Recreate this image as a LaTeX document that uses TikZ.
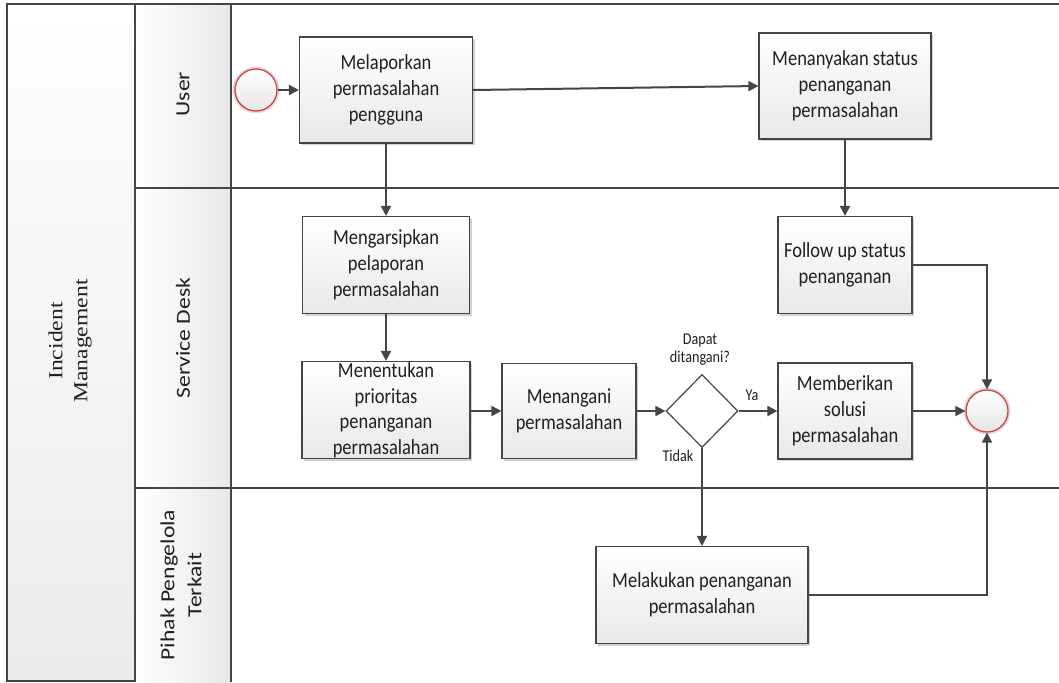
\documentclass[tikz,border=0pt]{standalone}
\usepackage{fontspec}
\setmainfont{Carlito}
\newfontfamily\boxfont[FakeStretch=0.86]{Carlito}
\newfontfamily\lanefont[FakeStretch=1.18]{Carlito}
\newfontfamily\titlefont[FakeStretch=1.18]{Liberation Serif}
\usetikzlibrary{arrows.meta,shapes.geometric,shadows}
\definecolor{ln}{HTML}{454545}
\definecolor{txt}{HTML}{202020}
\definecolor{evred}{HTML}{C9494B}
\begin{document}
\begin{tikzpicture}[x=1pt,y=-1pt,
  box/.style={draw=ln, line width=1.2pt, top color=white, bottom color=black!9,
    inner sep=0pt, align=center, text=txt,
    font=\boxfont\fontsize{21.5}{26}\selectfont,
    drop shadow={shadow xshift=2pt, shadow yshift=-2pt, opacity=0.18, fill=black}},
  ev/.style={circle, draw=evred, line width=1.3pt, minimum size=42pt, inner sep=0pt,
    top color=white, bottom color=black!10},
  glow/.style={circle, draw=evred!25, line width=3.5pt, minimum size=43pt, inner sep=0pt},
  gate/.style={diamond, draw=ln, line width=1.2pt, fill=white, minimum width=72pt,
    minimum height=73pt, inner sep=0pt},
  flow/.style={draw=ln, line width=2pt, -{Triangle[length=10pt,width=10pt]}},
  lbl/.style={text=txt, font=\boxfont\fontsize{16.5}{18}\selectfont, align=center, inner sep=0pt},
  lane/.style={text=txt, font=\lanefont\fontsize{20}{27}\selectfont, align=center, rotate=90, inner sep=0pt},
  frame/.style={draw=ln, line width=1.2pt}
]
\useasboundingbox (0,0) rectangle (1059,682);
\fill[white] (0,0) rectangle (1059,682);
% pool and lanes
\path[top color=white, bottom color=black!8] (7,4) rectangle (135,681);
\path[left color=white, right color=black!9] (135,4) rectangle (231,682);
\draw[frame] (7,4) rectangle (135,681);
\draw[frame] (231,4) -- (231,682);
\draw[frame] (135,4) -- (1059,4);
\draw[frame] (135,188) -- (1059,188);
\draw[frame] (135,488) -- (1059,488);
\node[lane, font=\titlefont\fontsize{20}{25}\selectfont] (pool) at (70,341) {Incident\\Management};
\node[lane] (luser) at (183,94) {User};
\node[lane] (lsd) at (183,338) {Service Desk};
\node[lane] (lpp) at (181,585) {Pihak Pengelola\\Terkait};
% events
\node[glow] (g1) at (256,90) {};
\node[glow] (g2) at (987,411) {};
\node[ev] (start) at (256,90) {};
\node[ev] (end) at (987,411) {};
% tasks
\node[box, minimum width=173pt, minimum height=106pt] (n1) at (386,90) {Melaporkan\\permasalahan\\pengguna};
\node[box, minimum width=172pt, minimum height=106pt] (n2) at (845,86) {Menanyakan status\\penanganan\\permasalahan};
\node[box, minimum width=167pt, minimum height=97pt] (n3) at (386,265) {Mengarsipkan\\pelaporan\\permasalahan};
\node[box, minimum width=168pt, minimum height=97pt] (n4) at (386,410) {};
\node[lbl, font=\boxfont\fontsize{21.5}{25.5}\selectfont] (t4) at (386,410.5) {Menentukan\\prioritas\\penanganan\\permasalahan};
\node[box, minimum width=134pt, minimum height=95pt] (n5) at (569,411) {Menangani\\permasalahan};
\node[gate] (d) at (702,411) {};
\node[box, minimum width=134pt, minimum height=96pt] (n6) at (845,411) {Memberikan\\solusi\\permasalahan};
\node[box, minimum width=134pt, minimum height=97pt] (n7) at (845,265) {Follow up status\\penanganan};
\node[box, minimum width=212pt, minimum height=97pt] (n8) at (702,595) {Melakukan penanganan\\permasalahan};
% labels
\node[lbl] (q) at (700,350) {Dapat\\ditangani?};
\node[lbl] (ya) at (752,395) {Ya};
\node[lbl] (tidak) at (678,456) {Tidak};
% flows
\draw[flow] (start) -- (n1);
\draw[flow] (n1.east) -- (n2.west);
\draw[flow] (n1) -- (n3);
\draw[flow] (n3) -- (n4);
\draw[flow] (n4.east |- n5) -- (n5);
\draw[flow] (n5) -- (d);
\draw[flow] (d.east) -- (n6);
\draw[flow] (d.south) -- (n8);
\draw[flow] (n2) -- (n7);
\draw[flow] (n6) -- (end);
\draw[flow] (n7.east) -| (end.north);
\draw[flow] (n8.east) -| (end.south);
\end{tikzpicture}
\end{document}
